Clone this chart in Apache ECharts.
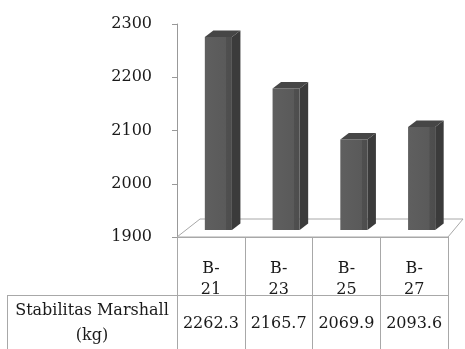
<!DOCTYPE html>
<html>
<head>
<meta charset="utf-8">
<script src="https://cdn.jsdelivr.net/npm/echarts@6/dist/echarts.min.js"></script>
<style>
  html, body { margin: 0; padding: 0; background: #fff; }
  #chart { width: 465px; height: 349px; }
</style>
</head>
<body>
<div id="chart"></div>
<script>
// Sample groups and their Marshall stability values (kg)
const categories = ['B-21', 'B-23', 'B-25', 'B-27'];
const stabilitas = [2262.3, 2165.7, 2069.9, 2093.6];
const seriesName = 'Stabilitas Marshall';
const seriesUnit = '(kg)';
const yTicks = [1900, 2000, 2100, 2200, 2300];

const FONT = '"DejaVu Serif", "Liberation Serif", serif';
const LINE = '#a8a8a8';
const yMin = yTicks[0];

const chart = echarts.init(document.getElementById('chart'), null, { renderer: 'canvas' });

// Front face shading: lighter body, darker strip before the side face
const frontFill = new echarts.graphic.LinearGradient(0, 0, 1, 0, [
  { offset: 0, color: '#5f5f5f' },
  { offset: 0.78, color: '#5a5a5a' },
  { offset: 0.8, color: '#4f4f4f' },
  { offset: 1, color: '#4d4d4d' }
]);

// Draws one pseudo-3D column (front, side and top faces) standing on the floor
function renderColumn(params, api) {
  const idx = api.value(0);
  const v = api.value(1);
  const top = api.coord([idx, v]);
  const base = api.coord([idx, yMin]);
  const band = api.size([1, 0])[0];
  const w = band * 0.4;
  const sx = 7.5, sy = -7;     // column placed part-way into the floor depth
  const dx = 8.5, dy = -6.5;   // column depth
  const x0 = top[0] - w / 2 + sx;
  const x1 = x0 + w;
  const yt = top[1] + sy;
  const yb = base[1] + sy;
  return {
    type: 'group',
    children: [
      { type: 'polygon', shape: { points: [[x1, yt], [x1 + dx, yt + dy], [x1 + dx, yb + dy], [x1, yb]] },
        style: { fill: '#3b3b3b' } },
      { type: 'rect', shape: { x: x0, y: yt, width: w, height: yb - yt },
        style: { fill: frontFill } },
      { type: 'polygon', shape: { points: [[x0, yt], [x0 + dx, yt + dy], [x1 + dx, yt + dy], [x1, yt]] },
        style: { fill: '#464646' } }
    ]
  };
}

const option = {
  animation: false,
  backgroundColor: '#ffffff',
  grid: { left: 177, right: 17, top: 24, bottom: 112 },
  xAxis: [
    {
      type: 'category',
      data: categories,
      boundaryGap: true,
      axisLine: { show: true, lineStyle: { color: LINE, width: 1 } },
      axisTick: { show: true, interval: 0, length: 112, lineStyle: { color: LINE, width: 1 } },
      axisLabel: {
        interval: 0,
        hideOverlap: false,
        margin: 21,
        fontFamily: FONT,
        fontSize: 16,
        lineHeight: 21,
        color: '#1a1a1a',
        formatter: (s) => s.replace('-', '-\n')
      },
      splitLine: { show: false }
    },
    {
      type: 'category',
      data: stabilitas.map((v) => v.toFixed(1)),
      position: 'bottom',
      offset: 0,
      axisLine: { show: false },
      axisTick: { show: false },
      axisLabel: {
        interval: 0,
        hideOverlap: false,
        margin: 79,
        fontFamily: FONT,
        fontSize: 16,
        color: '#1a1a1a'
      },
      splitLine: { show: false }
    }
  ],
  yAxis: {
    type: 'value',
    min: yTicks[0],
    max: yTicks[yTicks.length - 1],
    interval: yTicks[1] - yTicks[0],
    axisLine: { show: true, lineStyle: { color: '#999999', width: 1 } },
    axisTick: { show: true, length: 5, lineStyle: { color: '#999999' } },
    axisLabel: {
      margin: 25,
      fontFamily: FONT,
      fontSize: 16,
      color: '#1a1a1a',
      formatter: (v) => String(v)
    },
    splitLine: { show: false }
  },
  graphic: [
    // floor of the plot area
    { type: 'polygon', z: 1,
      shape: { points: [[177, 237], [200, 219], [463, 219], [448, 237]] },
      style: { fill: 'none', stroke: LINE, lineWidth: 1 } },
    // data table: series row border and left edge
    { type: 'line', z: 1, shape: { x1: 7, y1: 295.5, x2: 448, y2: 295.5 },
      style: { stroke: LINE, lineWidth: 1 } },
    { type: 'line', z: 1, shape: { x1: 7.5, y1: 295, x2: 7.5, y2: 349 },
      style: { stroke: LINE, lineWidth: 1 } },
    { type: 'text', z: 3, left: 92 - 77, top: 298,
      style: {
        text: seriesName + '\n' + seriesUnit,
        font: '16px ' + FONT,
        fill: '#1a1a1a',
        textAlign: 'center',
        lineHeight: 25,
        width: 154
      } }
  ],
  series: [
    {
      type: 'custom',
      name: seriesName,
      z: 5,
      renderItem: renderColumn,
      encode: { x: 0, y: 1 },
      data: stabilitas.map((v, i) => [i, v])
    }
  ]
};

chart.setOption(option);
</script>
</body>
</html>
